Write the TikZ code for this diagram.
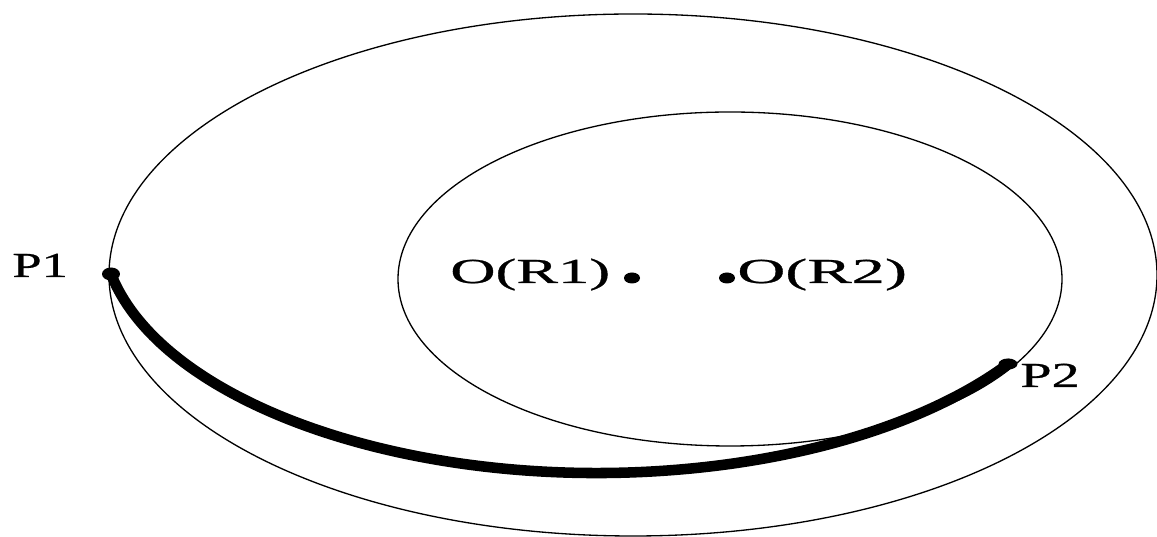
\documentclass[tikz,border=0pt]{standalone}
\usepackage{fontspec}
\setmainfont{Liberation Serif}
\newfontfamily\lblfont[FakeBold=0.6]{Liberation Serif}
\usetikzlibrary{shapes.geometric}
\tikzset{
  thin ring/.style={draw=black, line width=0.75pt},
  thick arc/.style={draw=black, line width=6pt, line cap=round},
  dot/.style={shape=ellipse, fill=black, inner sep=0pt, minimum width=0.32cm, minimum height=0.22cm},
  lbl/.style={inner sep=0pt, anchor=base west, font=\lblfont\fontsize{20}{24}\selectfont}
}
\begin{document}
\begin{tikzpicture}[x=0.02cm, y=0.02cm]
\useasboundingbox (0,0) rectangle (1157,537);
\fill[white] (0,0) rectangle (1157,537);
% rings
\draw[thin ring] (633,262) ellipse [x radius=524, y radius=261];
\draw[thin ring] (730,258) ellipse [x radius=332, y radius=167];
% end points of the arc
\coordinate (P1) at (111,263);
\coordinate (P2) at (1008,173);
\draw[thick arc] (P1) arc [start angle=191.15, end angle=326.1, x radius=495.4, y radius=246.7];
\node[dot, minimum width=0.36cm, minimum height=0.26cm] (d1) at (P1) {};
\node[dot, minimum width=0.38cm] (d2) at (P2) {};
\node[dot] (o1) at (632,259) {};
\node[dot] (o2) at (727,259) {};
% labels
\node[lbl] (t1) at (12,260) {\scalebox{1.5}[1]{P1}};
\node[lbl] (t2) at (1020,150) {\scalebox{1.6}[1]{P2}};
\node[lbl] (t3) at (450,254) {\scalebox{1.78}[1]{O(R1)}};
\node[lbl] (t4) at (737,254) {\scalebox{1.89}[1]{O(R2)}};
\end{tikzpicture}
\end{document}
